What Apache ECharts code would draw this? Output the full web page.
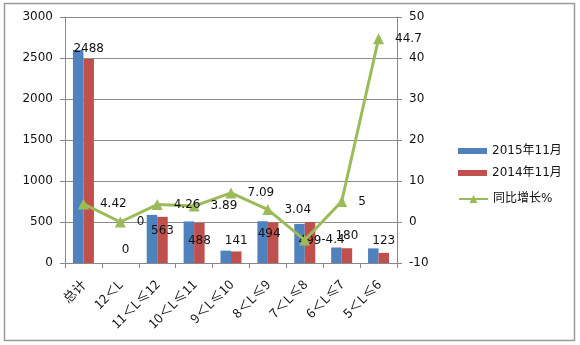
<!DOCTYPE html>
<html>
<head>
<meta charset="utf-8">
<script src="https://cdn.jsdelivr.net/npm/echarts@6/dist/echarts.min.js"></script>
<style>
  html, body { margin: 0; padding: 0; background: #fff; }
  #chart { width: 580px; height: 345px; }
</style>
</head>
<body>
<div id="chart"></div>
<script>
// Vehicle length bands
const categories = ['总计', '12＜L', '11＜L≤12', '10＜L≤11', '9＜L≤10', '8＜L≤9', '7＜L≤8', '6＜L≤7', '5＜L≤6'];
// Monthly volumes
const sales2015 = [2598, 0, 587, 507, 151, 509, 477, 189, 178];
const sales2014 = [2488, 0, 563, 488, 141, 494, 499, 180, 123];
// Year-on-year growth, %
const growth = [4.42, 0, 4.26, 3.89, 7.09, 3.04, -4.4, 5, 44.7];
// Axis ticks
const leftTicks = [0, 500, 1000, 1500, 2000, 2500, 3000];
const rightTicks = [-10, 0, 10, 20, 30, 40, 50];

const seriesNames = ['2015年11月', '2014年11月', '同比增长%'];
const FONT = 'DejaVu Sans, Noto Sans CJK SC, sans-serif';
const CJK_FONT = 'Noto Sans CJK SC, DejaVu Sans, sans-serif';

// Label placement for the 2014 bar values
const barLabelPos = ['top', 'top', 'insideTop', 'insideTop', 'top', 'insideTop', 'insideTop', 'top', 'top'];
const barLabelDist = [4, 7, 8, 12, 5, 5, 13, 6, 6];
const barLabelDx = [0, 0, 0, 0, 0, -4, 0, 0, 0];

const chart = echarts.init(document.getElementById('chart'), null, { renderer: 'canvas' });

const legendText = { fontSize: 12, color: '#111', fontFamily: FONT };

const option = {
  animation: false,
  backgroundColor: '#ffffff',
  textStyle: { fontFamily: FONT },
  graphic: [{
    type: 'rect',
    shape: { x: 4.5, y: 3.5, width: 570, height: 337 },
    style: { fill: 'none', stroke: '#9a9a9a', lineWidth: 1.5 },
    silent: true
  }],
  grid: { left: 65, right: 183, top: 17, bottom: 82, containLabel: false },
  legend: [{
    orient: 'vertical',
    left: 453,
    top: 140,
    itemGap: 10,
    itemWidth: 29,
    itemHeight: 6,
    textStyle: legendText,
    data: [
      { name: seriesNames[0], icon: 'rect' },
      { name: seriesNames[1], icon: 'rect' }
    ]
  }, {
    orient: 'vertical',
    left: 453,
    top: 188,
    itemWidth: 29,
    itemHeight: 10,
    textStyle: legendText,
    data: [{ name: seriesNames[2] }]
  }],
  xAxis: {
    type: 'category',
    data: categories,
    boundaryGap: true,
    axisLine: { lineStyle: { color: '#888', width: 1 } },
    axisTick: { show: true, length: 5, lineStyle: { color: '#888' } },
    axisLabel: {
      rotate: 45, margin: 19, fontSize: 13, color: '#111', fontFamily: CJK_FONT, interval: 0
    },
    splitLine: { show: false }
  },
  yAxis: [{
    type: 'value',
    min: leftTicks[0],
    max: leftTicks[leftTicks.length - 1],
    interval: leftTicks[1] - leftTicks[0],
    axisLine: { show: true, lineStyle: { color: '#888' } },
    axisTick: { show: true, length: 5, lineStyle: { color: '#888' } },
    axisLabel: { fontSize: 12, color: '#111', margin: 12, fontFamily: FONT, formatter: v => String(v) },
    splitLine: { show: true, lineStyle: { color: '#8c8c8c', width: 1 } }
  }, {
    type: 'value',
    position: 'right',
    min: rightTicks[0],
    max: rightTicks[rightTicks.length - 1],
    interval: rightTicks[1] - rightTicks[0],
    axisLine: { show: true, lineStyle: { color: '#888' } },
    axisTick: { show: true, length: 5, lineStyle: { color: '#888' } },
    axisLabel: { fontSize: 12, color: '#111', margin: 12, fontFamily: FONT, formatter: v => String(v) },
    splitLine: { show: false }
  }],
  series: [{
    name: seriesNames[0],
    type: 'bar',
    data: sales2015,
    barWidth: 10.5,
    barGap: '0%',
    itemStyle: { color: '#4f81bd' }
  }, {
    name: seriesNames[1],
    type: 'bar',
    data: sales2014.map((v, i) => ({
      value: v,
      label: {
        show: true,
        position: barLabelPos[i],
        distance: barLabelDist[i],
        offset: [barLabelDx[i], 0]
      }
    })),
    barWidth: 10.5,
    itemStyle: { color: '#c0504d' },
    label: { show: true, fontSize: 12, color: '#111', fontFamily: FONT }
  }, {
    name: seriesNames[2],
    type: 'line',
    yAxisIndex: 1,
    data: growth,
    symbol: 'triangle',
    symbolSize: 11,
    lineStyle: { color: '#9bbb59', width: 3 },
    itemStyle: { color: '#9bbb59' },
    z: 5,
    label: {
      show: true, position: 'right', distance: 11,
      fontSize: 12, color: '#111', fontFamily: FONT
    }
  }]
};

chart.setOption(option);
</script>
</body>
</html>
